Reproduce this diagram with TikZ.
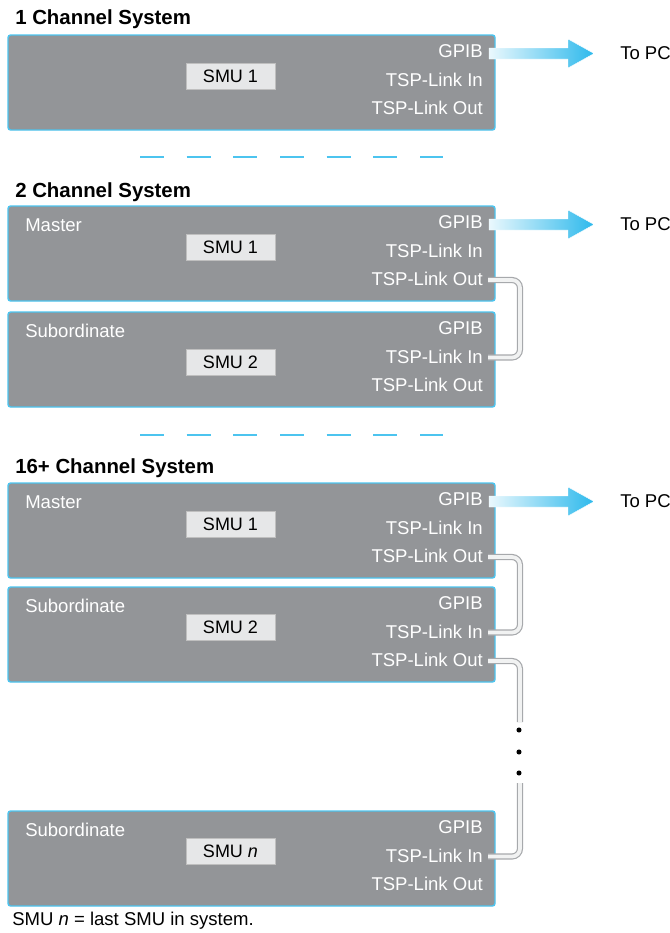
\documentclass[tikz,border=0pt]{standalone}
\usepackage{fontspec}
\setmainfont{Liberation Sans}
\usetikzlibrary{calc, positioning}

\definecolor{smugray}{HTML}{939598}
\definecolor{smublue}{HTML}{4CC4EF}
\definecolor{smulight}{HTML}{E6E7E8}
\definecolor{pipeedge}{HTML}{A7A9AC}
\definecolor{pipefill}{HTML}{F1F2F2}
\definecolor{arrowcyan}{HTML}{2DB9EC}

% one instrument: name, top, role, smu label, smu centre
\newcommand{\smuunit}[5]{
  \node[unitbox] (#1) at (251.5,{#2+47.5}) {};
  \node[rolelabel] (#1role) at (25,{#2+25}) {#3};
  \node[smubox] (#1smu) at (230.5,#5) {#4};
  \node[portlabel] (#1gpib) at (483,{#2+22.5}) {GPIB};
  \node[portlabel] (#1in) at (483,{#2+51}) {TSP-Link In};
  \node[portlabel] (#1out) at (483,{#2+79.5}) {TSP-Link Out};
  \coordinate (#1gpibpin) at (489,{#2+18.5});
  \coordinate (#1inpin) at (488,{#2+45.5});
  \coordinate (#1outpin) at (488,{#2+74});
}

\begin{document}
\begin{tikzpicture}[x=0.75pt,y=-0.75pt,
  unitbox/.style={draw=smublue, fill=smugray, line width=1.1pt, rounded corners=2pt,
    minimum width=487*0.75pt, minimum height=95*0.75pt, inner sep=0pt},
  smubox/.style={draw=black!25, fill=smulight, line width=0.4pt, inner sep=0pt,
    minimum width=89*0.75pt, minimum height=26*0.75pt, font=\fontsize{13.5}{16}\selectfont},
  portlabel/.style={anchor=base east, text=white, inner sep=0pt, font=\fontsize{13.9}{16}\selectfont},
  rolelabel/.style={anchor=base west, text=white, inner sep=0pt, font=\fontsize{13.9}{16}\selectfont},
  title/.style={anchor=base west, inner sep=0pt, font=\fontsize{15.3}{18}\selectfont\bfseries},
  pclabel/.style={anchor=west, inner sep=0pt, font=\fontsize{13.9}{16}\selectfont},
  pipe/.style={draw=pipeedge, line width=0.9pt, double=pipefill, double distance=2.8pt, rounded corners=6pt},
  sepline/.style={draw=smublue, line width=1.1pt, dash pattern=on 18pt off 17pt}]
\useasboundingbox (0,0) rectangle (670,933);
\coordinate (pipex) at (520,0);

\node[title] (title1) at (15,24) {1 Channel System};
\node[title] (title2) at (15,197) {2 Channel System};
\node[title] (title16) at (15,473) {16+ Channel System};

\smuunit{single}{35}{}{SMU 1}{76}
\smuunit{master2}{206}{Master}{SMU 1}{247}
\smuunit{sub2}{312}{Subordinate}{SMU 2}{362}
\smuunit{master16}{483}{Master}{SMU 1}{524.5}
\smuunit{sub16}{587}{Subordinate}{SMU 2}{627}
\smuunit{subn}{811}{Subordinate}{SMU \textit{n}}{851}

\foreach \sy in {157,435}
  \draw[sepline] (140,\sy) -- (443,\sy);

% GPIB to PC
\foreach \u in {single,master2,master16} {
  \shade[left color=arrowcyan!10, right color=arrowcyan, draw=white, line width=0.3pt]
    (\u gpibpin) ++(0,-5.5) -- ++(79,0) -- ++(0,-9)
    -- ++(26,14.5) -- ++(-26,14.5) -- ++(0,-9) -- ++(-79,0) -- cycle;
  \node[pclabel] (\u pc) at ([xshift=131*0.75pt]\u gpibpin) {To PC};
}

% TSP-Link cables
\draw[pipe] (master2outpin) -- (master2outpin -| pipex) -- (pipex |- sub2inpin) -- (sub2inpin);
\draw[pipe] (master16outpin) -- (master16outpin -| pipex) -- (pipex |- sub16inpin) -- (sub16inpin);
\coordinate (gaptop) at (520,722);
\coordinate (gapbot) at (520,783);
\draw[pipe] (sub16outpin) -- (sub16outpin -| pipex) -- (gaptop);
\draw[pipe] (gapbot) -- (pipex |- subninpin) -- (subninpin);
\foreach \dy in {730,752,773}
  \fill (519,\dy) circle[radius=1.9pt];

\node[anchor=base west, inner sep=0pt, font=\fontsize{13.9}{16}\selectfont] (note) at (12,925)
  {SMU \textit{n} = last SMU in system.};
\end{tikzpicture}
\end{document}
